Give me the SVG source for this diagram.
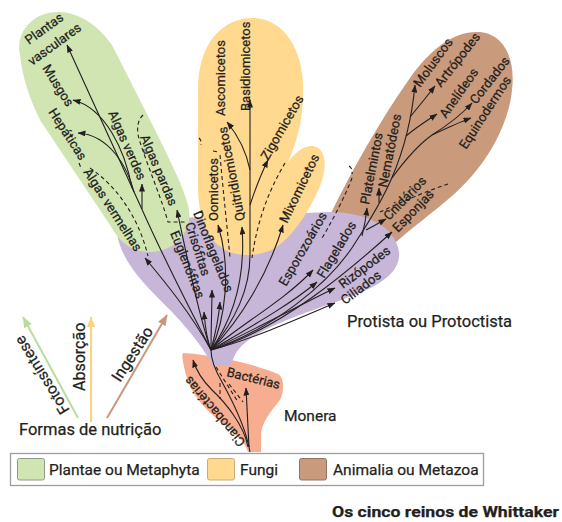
<svg xmlns="http://www.w3.org/2000/svg" width="562" height="522" viewBox="0 0 562 522">
  <defs>
    <style>
      text{font-family:Roboto,"Liberation Sans",sans-serif;fill:#231f20;stroke:#231f20;stroke-width:0.25}
      .t{font-size:13px}
      .k{font-size:15.5px}
      .br{fill:none;stroke:#231f20;stroke-width:1.1;marker-end:url(#ah)}
      .ln{fill:none;stroke:#231f20;stroke-width:1.1}
      .ds{fill:none;stroke:#231f20;stroke-width:1.1;stroke-dasharray:4 3}
    </style>
    <marker id="ah" viewBox="0 0 8 6" refX="7.5" refY="3" markerWidth="8" markerHeight="6" markerUnits="userSpaceOnUse" orient="auto">
      <path d="M0,0 L8,3 L0,6 Z" fill="#231f20"/>
    </marker>
    <marker id="ahG" viewBox="0 0 10 8" refX="9.5" refY="4" markerWidth="11" markerHeight="9" markerUnits="userSpaceOnUse" orient="auto">
      <path d="M0,0 L10,4 L0,8 Z" fill="#b9dc9e"/>
    </marker>
    <marker id="ahY" viewBox="0 0 10 8" refX="9.5" refY="4" markerWidth="11" markerHeight="9" markerUnits="userSpaceOnUse" orient="auto">
      <path d="M0,0 L10,4 L0,8 Z" fill="#fdd27f"/>
    </marker>
    <marker id="ahB" viewBox="0 0 10 8" refX="9.5" refY="4" markerWidth="11" markerHeight="9" markerUnits="userSpaceOnUse" orient="auto">
      <path d="M0,0 L10,4 L0,8 Z" fill="#c9977b"/>
    </marker>
  </defs>

  <!-- kingdom areas -->
  <g id="monera-area">
    <path d="M183,353 C205,354 250,362 278,374 C285,378 284,392 280,400 C272,410 263,420 261,433 L261,452 L248,452 C244,440 232,430 220,421 C203,408 190,392 186,375 C184,366 181,356 183,353 Z" fill="#f7ae90"/>
  </g>
  <g id="animalia-area">
    <path d="M318,242 C340,190 380,120 410,78 C430,50 452,32 477,32 C502,32 516,56 512,90 C508,130 482,170 452,196 C432,213 412,228 396,242 Z" fill="#c99a7b"/>
  </g>
  <g id="protista-area">
    <path d="M117,233 C125,222 165,218 200,217 L330,212 C368,212 396,228 399,252 C401,272 380,286 352,296 C315,310 268,324 246,342 C236,350 233,358 231,366 L213,366 C206,352 190,330 168,308 C145,285 121,262 117,233 Z" fill="#c7b6d7"/>
  </g>
  <g id="plantae-area">
    <path d="M20,55 C15,30 35,11 60,12 C82,13 100,28 112,45 L150,120 C166,152 183,185 188,205 C195,230 175,252 150,252 C130,252 118,240 110,225 L40,120 C30,100 22,76 20,55 Z" fill="#d1e5b3"/>
  </g>
  <g id="fungi-area">
    <path d="M198,90 C198,40 225,17 255,18 C285,20 302,50 303,85 C304,115 298,140 288,162 C295,152 305,145 313,146 C326,148 328,166 320,186 C312,206 295,235 275,248 C262,256 240,258 225,250 C205,238 199,215 198,190 Z" fill="#fed98f"/>
  </g>

  <!-- branches of the tree -->
  <g id="connectors">
    <!-- Monera -->
    <path class="ln" d="M250,452 C246,428 232,400 222,382 C215,370 211,360 211,350"/>
    <path class="br" d="M248,447 C244,425 225,402 212,390 C203,381 196,370 193,360"/>
    <path class="br" d="M249,447 C248,425 247,405 246,388"/>
    <path class="ds" d="M216,367 L238,402"/>
    <path class="ds" d="M229,384 L243,402"/>
    <path class="ds" d="M220,383 L220,399"/>
    <!-- Plantae -->
    <path class="br" d="M211,350 C185,300 160,250 140,205 L67,45"/>
    <path class="br" d="M211,350 C190,312 165,282 145,258"/>
    <path class="br" d="M211,350 C200,320 188,262 177,210"/>
    <path class="br" d="M132,188 C125,150 105,108 73,100"/>
    <path class="br" d="M134,192 C128,168 110,135 78,133"/>
    <path class="br" d="M142,209 L142,184"/>
    <path class="ds" d="M79,163 L81,168 M90,168 C115,185 138,215 148,256"/>
    <path class="ds" d="M143,115 C137,121 136,130 140,142 C148,167 162,200 168,222 L186,222"/>
    <!-- Protista -->
    <path class="br" d="M211,350 C207,340 205,325 204,312"/>
    <path class="br" d="M211,350 C211,330 212,305 212,290"/>
    <path class="br" d="M211,350 C215,335 219,315 220,302"/>
    <path class="br" d="M211,350 C240,325 285,300 313,270"/>
    <path class="br" d="M211,350 C245,330 290,305 317,282"/>
    <path class="br" d="M211,350 C250,332 300,305 335,288"/>
    <path class="br" d="M211,350 C250,340 300,318 335,303"/>
    <!-- Fungi -->
    <path class="br" d="M211,350 C225,320 232,270 218,225"/>
    <path class="br" d="M211,350 C232,320 246,280 242,227"/>
    <path class="br" d="M211,350 C235,320 250,290 250,255 L250,100"/>
    <path class="br" d="M250,170 C246,150 236,133 227,122"/>
    <path class="br" d="M250,205 C255,190 262,172 268,160"/>
    <path class="br" d="M211,350 C240,320 268,275 283,225"/>
    <path class="ds" d="M199,138 Q202,141 201,145 M213,151 L218,152 M220,155 C223,190 227,225 230,258"/>
    <path class="ds" d="M285,163 C272,185 258,215 252,258"/>
    <!-- Animalia -->
    <path class="br" d="M211,350 C270,330 330,285 357,240 C380,205 408,160 415,85"/>
    <path class="br" d="M211,350 C280,330 350,270 392,232"/>
    <path class="br" d="M362,236 C364,228 366,218 367,208"/>
    <path class="br" d="M379,203 L379,188"/>
    <path class="br" d="M366,230 C372,227 379,223 386,219"/>
    <path class="br" d="M410,117 C420,105 428,95 435,86"/>
    <path class="br" d="M406,136 C418,126 428,120 437,114"/>
    <path class="ln" d="M392,178 C405,160 418,145 432,135"/>
    <path class="br" d="M432,135 C448,125 462,114 472,103"/>
    <path class="br" d="M432,135 C447,128 460,122 471,118"/>
    <path class="ds" d="M349,166 Q353,169 352,174 M352,178 C345,196 335,216 321,240"/>
    <path class="ds" d="M448,184 C430,190 410,198 380,212"/>
  </g>

  <!-- group names -->
  <g id="plantae" class="t">
    <text transform="translate(29,45) rotate(-36)">Plantas</text>
    <text transform="translate(32,66) rotate(-36)">vasculares</text>
    <text transform="translate(42,68) rotate(58)">Musgos</text>
    <text transform="translate(48,112) rotate(57)">Hepáticas</text>
    <text transform="translate(108,113) rotate(66)">Algas verdes</text>
    <text transform="translate(83,172) rotate(57)">Algas vermelhas</text>
    <text transform="translate(140,137) rotate(67)">Algas pardas</text>
  </g>
  <g id="fungi" class="t">
    <text transform="translate(225,116) rotate(-90)">Ascomicetos</text>
    <text transform="translate(250,111) rotate(-90)">Basidiomicetos</text>
    <text transform="translate(218,221) rotate(-90)">Oomicetos</text>
    <text transform="translate(245,220) rotate(-101)">Quitridiomicetos</text>
    <text transform="translate(268,161) rotate(-60)">Zigomicetos</text>
    <text transform="translate(287,224) rotate(-64)">Mixomicetos</text>
  </g>
  <g id="animalia" class="t">
    <text transform="translate(369,205) rotate(-79)">Platelmintos</text>
    <text transform="translate(387,188) rotate(-79)">Nematódeos</text>
    <text transform="translate(389,221) rotate(-46)">Cnidários</text>
    <text transform="translate(398,233) rotate(-46)">Esponjas</text>
    <text transform="translate(420,88) rotate(-54)">Moluscos</text>
    <text transform="translate(441,88) rotate(-52)">Artrópodes</text>
    <text transform="translate(446,119) rotate(-55)">Anelídeos</text>
    <text transform="translate(476,105) rotate(-52)">Cordados</text>
    <text transform="translate(466,150) rotate(-57)">Equinodermos</text>
  </g>
  <g id="protista" class="t">
    <text transform="translate(170,233) rotate(68)">Euglenófitas</text>
    <text transform="translate(185,224) rotate(72)">Crisófitas</text>
    <text transform="translate(193,213) rotate(68)">Dinoflagelados</text>
    <text transform="translate(286,287) rotate(-60)">Esporozoários</text>
    <text transform="translate(324,279) rotate(-59)">Flagelados</text>
    <text transform="translate(343,289) rotate(-37)">Rizópodes</text>
    <text transform="translate(345,305) rotate(-37)">Ciliados</text>
    <text font-size="16.5" x="347" y="327">Protista ou Protoctista</text>
  </g>
  <g id="monera" class="t">
    <text transform="translate(226,376) rotate(14)">Bactérias</text>
    <text transform="translate(246,442) rotate(-130)">Cianobactérias</text>
    <text class="k" x="284" y="421">Monera</text>
  </g>

  <!-- modes of nutrition -->
  <g id="nutricao">
    <path d="M78,418 L23,317" stroke="#b9dc9e" stroke-width="2" fill="none" marker-end="url(#ahG)"/>
    <path d="M91,422 L91,317" stroke="#fdd27f" stroke-width="2" fill="none" marker-end="url(#ahY)"/>
    <path d="M107,418 L167,315" stroke="#c9977b" stroke-width="2" fill="none" marker-end="url(#ahB)"/>
    <text font-size="15.5" transform="translate(70,410) rotate(-122)">Fotossíntese</text>
    <text font-size="16" transform="translate(85,391) rotate(-90)">Absorção</text>
    <text font-size="16" transform="translate(120,383) rotate(-57)">Ingestão</text>
    <text font-size="16.5" x="19" y="435">Formas de nutrição</text>
  </g>

  <!-- legend -->
  <g id="legenda">
    <rect x="10.5" y="453.5" width="473" height="32" fill="#fff" stroke="#9d9d9d" stroke-width="1.3"/>
    <rect x="17.5" y="458.5" width="27" height="21.5" rx="2" fill="#d1e5b3" stroke="#8f9c84" stroke-width="1"/>
    <text class="k" x="49" y="475">Plantae ou Metaphyta</text>
    <rect x="207.5" y="458.5" width="27" height="21.5" rx="2" fill="#fed98f" stroke="#c9ab78" stroke-width="1"/>
    <text class="k" x="240" y="475">Fungi</text>
    <rect x="299.5" y="458.5" width="27" height="21.5" rx="2" fill="#c99a7b" stroke="#93745f" stroke-width="1"/>
    <text class="k" x="333" y="475">Animalia ou Metazoa</text>
  </g>

  <text x="332" y="517" font-size="15.5" font-weight="bold" textLength="227" lengthAdjust="spacingAndGlyphs">Os cinco reinos de Whittaker</text>
</svg>
